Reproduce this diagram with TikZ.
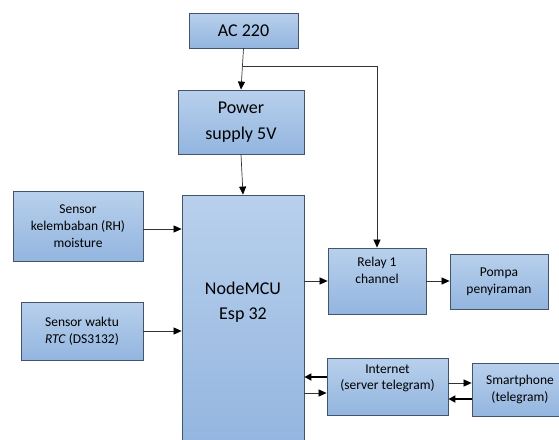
\documentclass[tikz,border=0pt]{standalone}
\usepackage{fontspec}
\setmainfont{Carlito}
\usetikzlibrary{arrows.meta}
\definecolor{boxtop}{HTML}{B8D0EC}
\definecolor{boxbot}{HTML}{93B5DF}
\definecolor{boxline}{HTML}{44546A}
\definecolor{wire}{HTML}{333333}
\tikzset{
  blk/.style={draw=boxline, line width=0.8pt, top color=boxtop, bottom color=boxbot,
    rectangle, align=center, inner sep=0pt, font=\fontsize{13.5}{16.7}\selectfont},
  bigblk/.style={blk, font=\fontsize{18}{26}\selectfont},
  wireto/.style={draw=wire, line width=0.7pt, -{Triangle[length=8pt,width=7pt,color=black]}},
  boldto/.style={draw=black, line width=1.6pt, -{Triangle[length=7pt,width=7pt]}}
}
\begin{document}
\begin{tikzpicture}[x=1pt,y=-1pt]
\clip (0,0) rectangle (559,439);
\fill[white] (0,0) rectangle (559,439);
% blocks
\node[bigblk, minimum width=109pt, minimum height=35pt] (ac) at (243.5,30.5) {AC 220};
\node[bigblk, minimum width=126pt, minimum height=64pt] (ps) at (241,122) {Power\\supply 5V};
\node[bigblk, minimum width=122pt, minimum height=255pt] (mcu) at (243,322.5) {};
\node[font=\fontsize{18}{25}\selectfont, align=center, inner sep=0pt] (mcutext) at (243,302) {NodeMCU\\Esp 32};
\node[blk, minimum width=130pt, minimum height=70pt] (rh) at (78,226) {Sensor\\kelembaban (RH)\\moisture};
\node[blk, minimum width=122pt, minimum height=58pt] (rtc) at (82,331) {Sensor waktu\\\textit{RTC} (DS3132)};
\node[blk, minimum width=98pt, minimum height=66pt] (relay) at (377,281) {Relay 1\\channel\\[4pt]};
\node[blk, minimum width=98pt, minimum height=55pt] (pompa) at (499,281.5) {Pompa\\penyiraman};
\node[blk, minimum width=121pt, minimum height=57pt] (inet) at (387.5,386.5) {Internet\\(server telegram)\\[2pt]};
\node[blk, minimum width=96pt, minimum height=53pt] (phone) at (520,389.5) {Smartphone\\(telegram)};
% connectors
\coordinate (br) at (243,66);
\coordinate (brr) at (377,66);
\draw[wireto] (ac.south) -- (ps.north);
\draw[wireto] (br) -- (brr) -- (relay.north);
\draw[wireto] (ps.south) -- (mcu.north);
\draw[wireto] (rh.east |- 0,229) -- (mcu.west |- 0,229);
\draw[wireto] (rtc.east) -- (rtc.east -| mcu.west);
\draw[wireto] (mcu.east |- relay.west) -- (relay.west);
\draw[wireto] (relay.east) -- (relay.east -| pompa.west);
\draw[boldto] (inet.west |- 0,377) -- (mcu.east |- 0,377);
\draw[wireto] (mcu.east |- 0,393) -- (inet.west |- 0,393);
\draw[wireto] (inet.east |- 0,383) -- (phone.west |- 0,383);
\draw[boldto] (phone.west |- 0,399) -- (inet.east |- 0,399);
\end{tikzpicture}
\end{document}
